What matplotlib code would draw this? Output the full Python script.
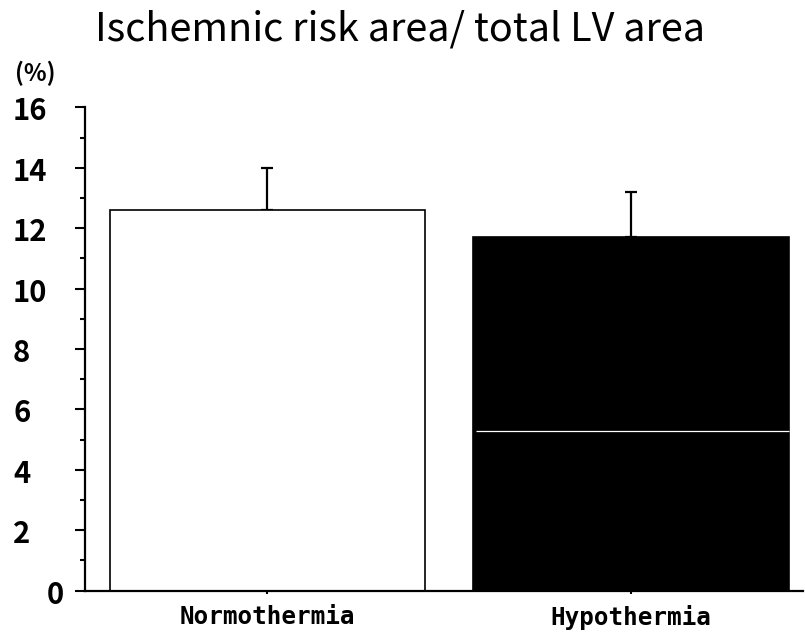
import matplotlib
matplotlib.use("Agg")
import matplotlib.pyplot as plt
from matplotlib import transforms

# ---- data ----
categories = ["Normothermia", "Hypothermia"]
means = [12.6, 11.7]
sem_upper = [1.4, 1.5]
bar_colors = ["white", "black"]
yticks_major = [0, 2, 4, 6, 8, 10, 12, 14, 16]
ytick_labels = ["0", "2", "4", "6", "8", "10", "12", "14", "16"]
yticks_minor = [1, 3, 5, 7, 9, 11, 13, 15]
artifact_level = [5.3]  # thin white line visible across the black bar

title = "Ischemnic risk area/ total LV area"
unit_label = "(%)"

CJK = ["Noto Sans CJK JP", "DejaVu Sans"]

W, H = 805, 638
fig = plt.figure(figsize=(W / 100, H / 100), dpi=100)
fig.patch.set_facecolor("white")

ax_left, ax_right, ax_bottom, ax_top = 85, 803, 590.7, 107.3
ax = fig.add_axes([ax_left / W, 1 - ax_bottom / H, (ax_right - ax_left) / W, (ax_bottom - ax_top) / H])

x = list(range(len(categories)))
width = 0.869
ax.bar(x, means, width=width, color=bar_colors, edgecolor="black", linewidth=1.2, zorder=2)
ax.errorbar(x, means, yerr=[[0] * len(means), sem_upper], fmt="none", ecolor="black",
            elinewidth=1.6, capsize=4, capthick=1.6, zorder=1)
ax.hlines(artifact_level, x[1] - width / 2 + 0.008, x[1] + width / 2, colors="white", linewidth=0.9, zorder=3)

ax.set_xlim(-0.502, 1.473)
ax.set_ylim(0, 16)

for s in ["top", "right"]:
    ax.spines[s].set_visible(False)
ax.spines["left"].set_linewidth(1.6)
ax.spines["bottom"].set_linewidth(1.6)

ax.set_yticks(yticks_major)
ax.set_yticks(yticks_minor, minor=True)
ax.set_yticklabels([])
ax.tick_params(axis="y", which="major", direction="out", length=7.2, width=1.5)
ax.tick_params(axis="y", which="minor", direction="out", length=3.6, width=1.5)

ax.set_xticks(x)
ax.set_xticklabels(categories, fontfamily="DejaVu Sans Mono", fontweight="bold", fontsize=17.5)
ax.tick_params(axis="x", which="major", direction="out", length=2.5, width=1.5, pad=8)

# y tick labels drawn at the reference's left-aligned positions
base = transforms.blended_transform_factory(ax.transAxes, ax.transData)
for val, lab in zip(yticks_major, ytick_labels):
    dx = -38 if lab == "0" else -72
    tr = base + transforms.ScaledTranslation(dx / 100, -4 / 100, fig.dpi_scale_trans)
    ax.text(0, val, lab, transform=tr, ha="left", va="center",
            fontfamily=CJK, fontweight="bold", fontsize=21, clip_on=False)

fig.text(35 / W, 1 - 73 / H, unit_label, ha="center", va="center",
         fontfamily=CJK, fontweight="bold", fontsize=17)

fig.text(400 / W, 1 - 40 / H, title, ha="center", va="baseline",
         fontfamily=CJK, fontsize=28.5)

fig.savefig("out.png", dpi=100, facecolor="white")
